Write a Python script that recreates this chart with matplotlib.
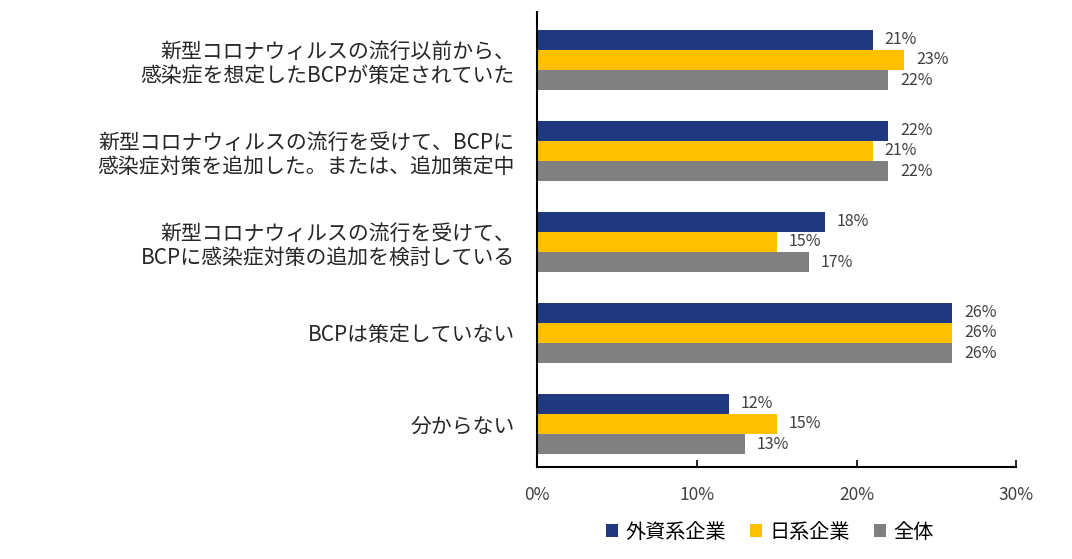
import matplotlib.pyplot as plt
import numpy as np

plt.rcParams['font.family'] = ['Noto Sans CJK JP', 'DejaVu Sans']

categories = [
    '新型コロナウィルスの流行以前から、\n感染症を想定したBCPが策定されていた',
    '新型コロナウィルスの流行を受けて、BCPに\n感染症対策を追加した。または、追加策定中',
    '新型コロナウィルスの流行を受けて、\nBCPに感染症対策の追加を検討している',
    'BCPは策定していない',
    '分からない',
]
series_names = ['外資系企業', '日系企業', '全体']
foreign = [21, 22, 18, 26, 12]
japanese = [23, 21, 15, 26, 15]
overall = [22, 22, 17, 26, 13]
colors = ['#203880', '#FFC000', '#808080']

fig = plt.figure(figsize=(10.72, 5.59), dpi=100)
ax = fig.add_axes([0.501, 0.1646, 0.447, 0.814])

y = np.arange(len(categories))
h = 0.222
for k, (vals, name, c) in enumerate(zip([foreign, japanese, overall], series_names, colors)):
    pos = y + (k - 1) * h
    ax.barh(pos, vals, height=h, color=c, label=name)
    for p, v in zip(pos, vals):
        ax.text(v + 0.75, p, f'{v}%', va='center', ha='left', fontsize=11.5, color='#404040')

ax.set_ylim(4.4725, -0.5275)
ax.set_xlim(0, 30)
ax.set_xticks([0, 10, 20, 30])
ax.set_xticklabels(['0%', '10%', '20%', '30%'], fontsize=12.5, color='#404040')
ax.tick_params(axis='x', direction='in', length=5, width=1.2, pad=14)
ax.set_yticks(y)
ax.set_yticklabels(categories, fontsize=15, color='#262626', linespacing=1.15)
ax.tick_params(axis='y', length=0, pad=16)
for s in ['top', 'right']:
    ax.spines[s].set_visible(False)
for s in ['left', 'bottom']:
    ax.spines[s].set_linewidth(1.5)
    ax.spines[s].set_color('black')

fig.legend(loc='center', bbox_to_anchor=(0.718, 0.048), ncol=3, frameon=False,
           fontsize=14.5, handlelength=0.6, handleheight=0.6, handletextpad=0.35,
           columnspacing=1.2)

fig.savefig('out.png', dpi=100)
